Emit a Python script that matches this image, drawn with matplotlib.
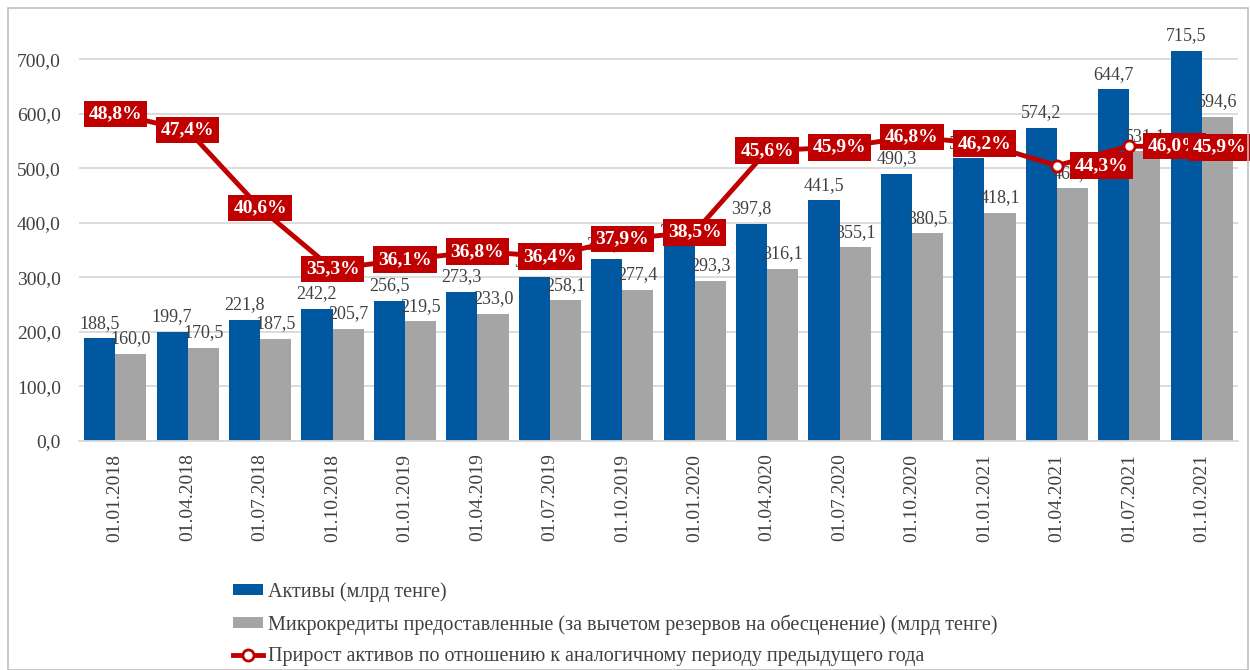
import matplotlib.pyplot as plt
import numpy as np
from matplotlib.patches import Rectangle

plt.rcParams['font.family'] = ['Liberation Serif', 'DejaVu Serif']

daty = ["01.01.2018", "01.04.2018", "01.07.2018", "01.10.2018",
        "01.01.2019", "01.04.2019", "01.07.2019", "01.10.2019",
        "01.01.2020", "01.04.2020", "01.07.2020", "01.10.2020",
        "01.01.2021", "01.04.2021", "01.07.2021", "01.10.2021"]
aktivy = [188.5, 199.7, 221.8, 242.2, 256.5, 273.3, 301.5, 333.0,
          357.0, 397.8, 441.5, 490.3, 518.5, 574.2, 644.7, 715.5]
mikrokredity = [160.0, 170.5, 187.5, 205.7, 219.5, 233.0, 258.1, 277.4,
                293.3, 316.1, 355.1, 380.5, 418.1, 463.5, 531.1, 594.6]
prirost = [48.8, 47.4, 40.6, 35.3, 36.1, 36.8, 36.4, 37.9,
           38.5, 45.6, 45.9, 46.8, 46.2, 44.3, 46.0, 45.9]

SINIY = "#0059A0"
SERYY = "#A5A5A5"
KRASNYY = "#C00000"
TEKST = "#404040"

def fmt(v):
    return f"{v:.1f}".replace(".", ",")

fig = plt.figure(figsize=(12.5, 6.7), dpi=100)
ax = fig.add_axes([79 / 1250, 1 - 441 / 670, (1238 - 79) / 1250, (441 - 21) / 670])
x = np.arange(len(daty))
w = 0.43

b1 = ax.bar(x - w / 2, aktivy, w, color=SINIY, label="Активы (млрд тенге)", zorder=2)
b2 = ax.bar(x + w / 2, mikrokredity, w, color=SERYY,
            label="Микрокредиты предоставленные (за вычетом резервов на обесценение) (млрд тенге)",
            zorder=2)

for xi, v in zip(x, aktivy):
    ax.text(xi - w / 2, v + 12, fmt(v), ha="center", va="bottom", fontsize=13, color=TEKST, zorder=3)
for xi, v in zip(x, mikrokredity):
    ax.text(xi + w / 2, v + 12, fmt(v), ha="center", va="bottom", fontsize=13, color=TEKST, zorder=3)

ax.set_xlim(-0.5, len(daty) - 0.5)
ax.set_ylim(0, 770)
ax.set_yticks(np.arange(0, 701, 100))
ax.set_yticklabels([fmt(t) for t in np.arange(0, 701, 100)], fontsize=14, color=TEKST)
ax.set_xticks(x)
ax.set_xticklabels(daty, rotation=90, fontsize=14, color=TEKST)
ax.tick_params(length=0, pad=9)
ax.tick_params(axis="y", pad=13)
ax.grid(axis="y", color="#D9D9D9", linewidth=1.3, zorder=0)
for s in ["top", "right", "left"]:
    ax.spines[s].set_visible(False)
ax.spines["bottom"].set_color("#D9D9D9")
ax.spines["bottom"].set_linewidth(1.3)

ax2 = ax.twinx()
ax2.set_ylim(20.3, 56.9)
ax2.axis("off")
ln, = ax2.plot(x, prirost, color=KRASNYY, linewidth=3.5, marker="o", markersize=8,
               markerfacecolor="white", markeredgecolor=KRASNYY, markeredgewidth=2,
               label="Прирост активов по отношению к аналогичному периоду предыдущего года",
               zorder=4)

box = dict(boxstyle="square,pad=0.25", facecolor=KRASNYY, edgecolor="none")
for i, (xi, v) in enumerate(zip(x, prirost)):
    if i in (13, 14):
        ax2.annotate(fmt(v) + "%", (xi, v), xytext=(13, 0), textcoords="offset points",
                     ha="left", va="center", fontsize=14, fontweight="bold", color="white",
                     bbox=box, zorder=5, annotation_clip=False)
    elif i == 15:
        ax2.annotate(fmt(v) + "%", (xi, v), xytext=(13, 0), textcoords="offset points",
                     ha="center", va="center", fontsize=14, fontweight="bold", color="white",
                     bbox=box, zorder=6, annotation_clip=False)
    else:
        ax2.text(xi, v, fmt(v) + "%", ha="center", va="center", fontsize=14,
                 fontweight="bold", color="white", bbox=box, zorder=5)

fig.legend(handles=[b1, b2, ln], loc="upper left", bbox_to_anchor=(223 / 1250, 1 - 572 / 670),
           frameon=False, fontsize=14.5, labelcolor=TEKST, handlelength=1.5, handleheight=0.5,
           labelspacing=0.62, handletextpad=0.25, borderpad=0)

fig.patches.append(Rectangle((8 / 1250, 0), 1240 / 1250, 1 - 8 / 670, transform=fig.transFigure,
                             fill=False, edgecolor="#BFBFBF", linewidth=1.2))

fig.savefig("out.png", dpi=100)
